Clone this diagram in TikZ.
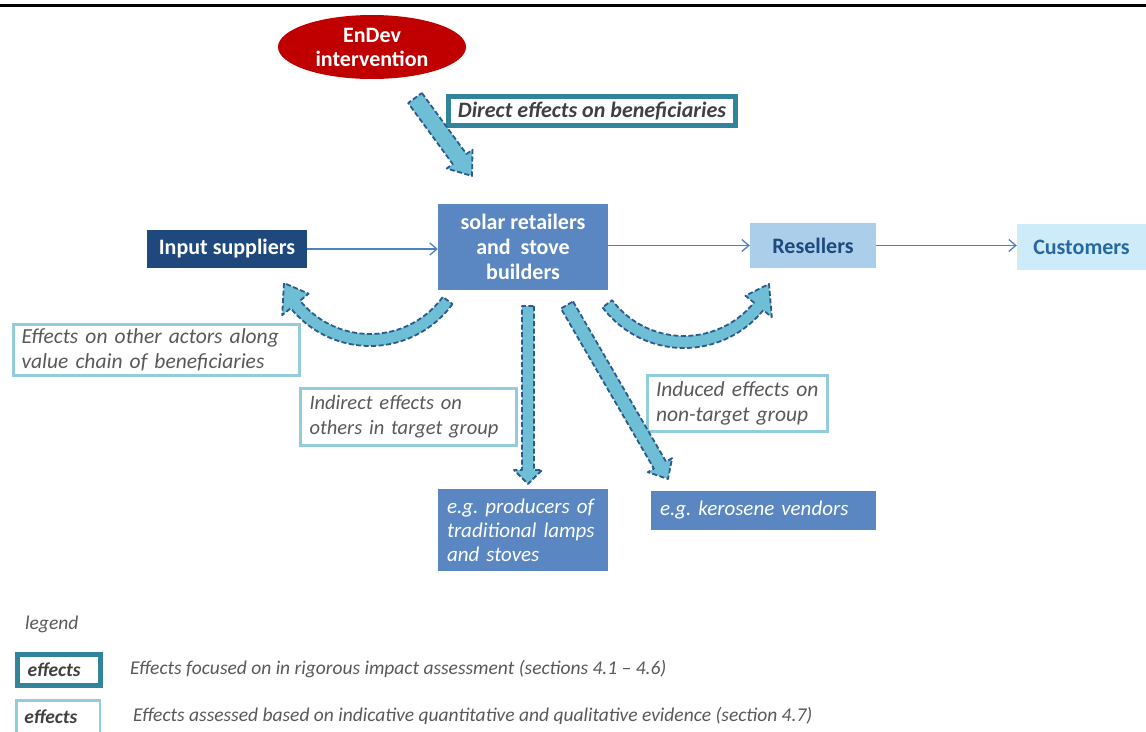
\documentclass[tikz,border=0pt]{standalone}
\usepackage{fontspec}
\setmainfont{Carlito}
\usetikzlibrary{shapes.geometric,calc,arrows.meta}
\definecolor{endevred}{HTML}{C00000}
\definecolor{tealb}{HTML}{31849B}
\definecolor{lightb}{HTML}{93CDDD}
\definecolor{navy}{HTML}{1F497D}
\definecolor{midblue}{HTML}{5A87C1}
\definecolor{resfill}{HTML}{ABCFEB}
\definecolor{custfill}{HTML}{CDEBF8}
\definecolor{custtext}{HTML}{2868A0}
\definecolor{arrline}{HTML}{4F81BD}
\definecolor{blkfill}{HTML}{6EBFD5}
\definecolor{blkline}{HTML}{2C5A8E}
\definecolor{greytext}{HTML}{595959}
\definecolor{darktext}{HTML}{404040}
\frenchspacing
\tikzset{
  actor/.style={rectangle, inner sep=0pt, align=center, font=\bfseries\fontsize{22}{25}\selectfont},
  strongeff/.style={rectangle, draw=tealb, line width=5pt, fill=white, inner sep=0pt,
    font=\bfseries\itshape\fontsize{22}{24}\selectfont, text=darktext},
  weakeff/.style={rectangle, draw=lightb, line width=2.5pt, fill=white, align=left,
    font=\itshape\fontsize{21.5}{25}\selectfont, text=greytext},
  examplebox/.style={rectangle, fill=midblue, align=left, text=white,
    font=\itshape\fontsize{21}{24}\selectfont},
  blk/.style={fill=blkfill, draw=blkline, line width=1.8pt, dash pattern=on 5pt off 2.5pt, line join=round},
  flow/.style={draw=arrline, line width=1.3pt, -{Straight Barb[length=7pt,width=12pt]}},
  legtext/.style={anchor=west, inner sep=0pt, text=greytext, font=\itshape\fontsize{19.5}{22}\selectfont}
}
% straight block arrow: start, end, shaft half width, head half width, head length
\newcommand\blockarr[5]{%
  \coordinate (hb) at ($(#2)!#5!(#1)$);
  \draw[blk] ($(#1)!#3!90:(#2)$) -- ($(hb)!#3!90:(#2)$) -- ($(hb)!#4!90:(#2)$) -- (#2)
    -- ($(hb)!#4!-90:(#2)$) -- ($(hb)!#3!-90:(#2)$) -- ($(#1)!#3!-90:(#2)$) -- cycle;
}
\begin{document}
\begin{tikzpicture}[x=1pt,y=1pt]
\useasboundingbox (0,0) rectangle (1146,-731);
\fill[white] (0,0) rectangle (1146,-731);
% top rule
\draw[line width=3pt] (0,-5) -- (1146,-5);

% nodes
\node[ellipse, fill=endevred, minimum width=188pt, minimum height=64pt, inner sep=0pt,
  align=center, text=white, font=\bfseries\fontsize{22}{24}\selectfont] (endev) at (372,-47) {EnDev\\intervention};
\node[strongeff, minimum width=287pt, minimum height=29pt] (direct) at (592,-111) {Direct effects on beneficiaries};

\node[actor, fill=navy, text=white, minimum width=160pt, minimum height=38pt] (input) at (227,-249) {Input suppliers};
\node[actor, fill=midblue, text=white, minimum width=170pt, minimum height=86pt] (solar) at (523,-247) {solar retailers\\and\ \ stove\\builders};
\node[actor, fill=resfill, text=navy, minimum width=126pt, minimum height=45pt] (resellers) at (813,-245.5) {Resellers};
\node[actor, fill=custfill, text=custtext, minimum width=129pt, minimum height=46pt] (customers) at (1081.5,-247) {Customers};

\node[weakeff, inner xsep=8pt, text width=270pt, minimum height=51pt] (others) at (156.5,-350) {Effects on other actors along\\value chain of beneficiaries};
\node[weakeff, inner xsep=9pt, text width=198pt, minimum height=57pt,
  font=\itshape\fontsize{20.5}{25}\selectfont] (indirect) at (408.5,-417) {Indirect effects on\\others in target group};
\node[weakeff, inner xsep=8.5pt, text width=163pt, minimum height=56pt] (induced) at (737.5,-403.5) {Induced effects on\\non-target group};

\node[examplebox, inner xsep=9pt, text width=152pt, minimum height=82pt] (producers) at (523,-530) {e.g. producers of\\traditional lamps\\and stoves};
\node[examplebox, inner xsep=9pt, text width=207pt, minimum height=39pt] (kerosene) at (763.5,-510.5) {e.g. kerosene vendors};

% thin flow arrows
\draw[flow] (input.east) -- (input.east -| solar.west);
\draw[flow] (solar.east |- resellers.west) -- (resellers.west);
\draw[flow] (resellers.east) -- (resellers.east -| customers.west);

% straight block arrows
\coordinate (dA) at (415,-98);
\coordinate (dB) at (472,-176);
\blockarr{dA}{dB}{8.5pt}{16pt}{21pt}
\coordinate (vA) at (528,-306);
\coordinate (vB) at (528,-484);
\blockarr{vA}{vB}{6pt}{14pt}{14pt}
\coordinate (gA) at (567,-305);
\coordinate (gB) at (668,-479);
\blockarr{gA}{gB}{7pt}{14pt}{16pt}

% curved block arrows
\coordinate (lc) at (370,-244);
\coordinate (ltip) at (284,-283);
\draw[blk] ($(lc)+(-36:102pt)$) arc[start angle=-36, end angle=-141, radius=102pt]
  -- ($(lc)+(-141:113pt)$) -- (ltip) -- ($(lc)+(-141:79pt)$) -- ($(lc)+(-141:90pt)$)
  arc[start angle=-141, end angle=-36, radius=90pt] -- cycle;
\coordinate (rc) at (684,-246);
\coordinate (rtip) at (769,-284);
\draw[blk] ($(rc)+(-143:102pt)$) arc[start angle=-143, end angle=-39, radius=102pt]
  -- ($(rc)+(-39:113pt)$) -- (rtip) -- ($(rc)+(-39:79pt)$) -- ($(rc)+(-39:90pt)$)
  arc[start angle=-39, end angle=-143, radius=90pt] -- cycle;

% legend
\node[legtext] (legend) at (25,-624) {legend};
\node[strongeff, align=left, inner xsep=10pt, text width=63pt, minimum height=31pt,
  font=\bfseries\itshape\fontsize{19.5}{22}\selectfont] (leg1) at (59,-670) {effects};
\node[legtext] (leg1t) at (130,-669) {Effects focused on in rigorous impact assessment (sections 4.1 – 4.6)};
\node[weakeff, inner xsep=8pt, text width=67.5pt, minimum height=33pt, text=darktext,
  font=\bfseries\itshape\fontsize{19.5}{22}\selectfont] (leg2) at (58,-717) {effects};
\node[legtext] (leg2t) at (133,-716) {Effects assessed based on indicative quantitative and qualitative evidence (section 4.7)};
\end{tikzpicture}
\end{document}
